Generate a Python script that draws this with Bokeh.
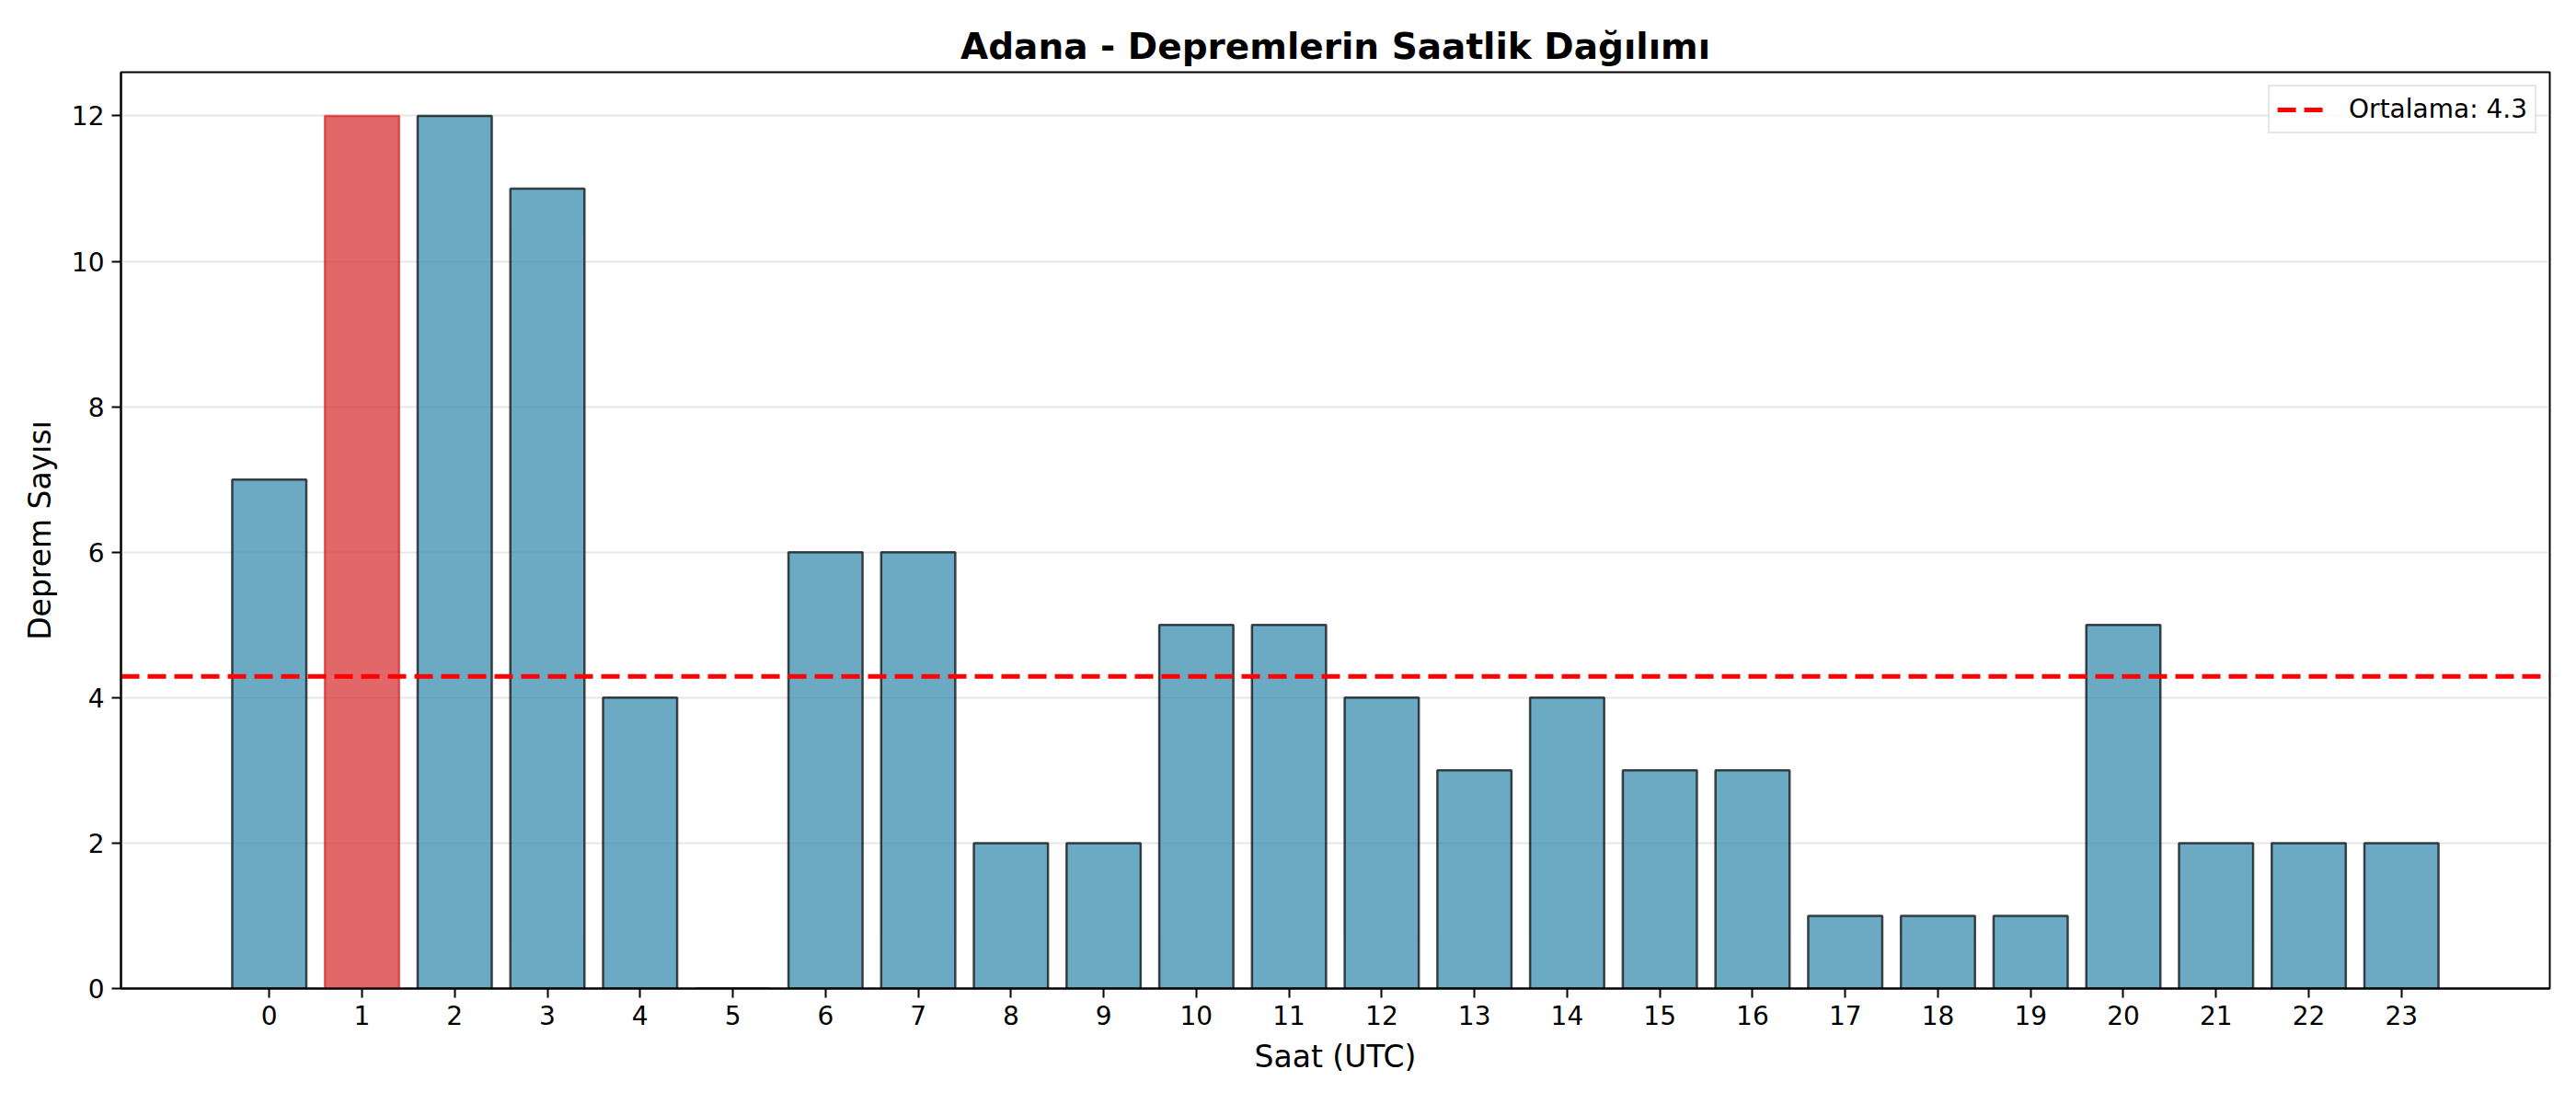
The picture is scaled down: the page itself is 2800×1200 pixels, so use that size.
from bokeh.plotting import figure
from bokeh.models import Legend, LegendItem, FixedTicker, ColumnDataSource, Range1d
from bokeh.embed import file_html
from bokeh.resources import INLINE

# hourly earthquake counts, Adana
hours = list(range(24))
counts = [7, 12, 12, 11, 4, 0, 6, 6, 2, 2, 5, 5, 4, 3, 4, 3, 3, 1, 1, 1, 5, 2, 2, 2]
y_ticks = [0, 2, 4, 6, 8, 10, 12]

mean = sum(counts) / len(counts)
peak = counts.index(max(counts))
colors = ["#d62728" if i == peak else "#2E86AB" for i in hours]
edges = ["#d62728" if i == peak else "black" for i in hours]

FONT = "DejaVu Sans"
x_lo, x_hi = -1.6, 24.6

src = ColumnDataSource(dict(hour=hours, count=counts, color=colors, edge=edges))

p = figure(width=2784, height=1184, output_backend="svg", toolbar_location=None,
           x_range=Range1d(x_lo, x_hi), y_range=Range1d(0, 12.6),
           min_border_left=131, min_border_right=13,
           min_border_top=78, min_border_bottom=110)

p.vbar(x="hour", top="count", width=0.8, source=src,
       fill_color="color", fill_alpha=0.7,
       line_color="edge", line_alpha=0.7, line_width=2.5)

# mean line across the whole plot
mean_r = p.line(x=[x_lo, x_hi], y=[mean, mean], line_color="red",
                line_width=5, line_dash="20 9")

legend = Legend(items=[LegendItem(label="Ortalama: %.1f" % mean, renderers=[mean_r])],
                location="top_right")
legend.label_text_font = FONT
legend.label_text_font_size = "28px"
legend.label_text_color = "black"
legend.glyph_width = 50
legend.glyph_height = 28
legend.padding = 8
legend.margin = 14
legend.spacing = 0
legend.label_standoff = 28
legend.border_line_color = "#cccccc"
legend.border_line_width = 2
legend.background_fill_alpha = 0.8
p.add_layout(legend)

p.title.text = "Adana - Depremlerin Saatlik Dağılımı"
p.title.align = "center"
p.title.text_font = FONT
p.title.text_font_size = "39px"
p.title.text_font_style = "bold"
p.title.text_color = "black"
p.title.offset = 0
p.title.standoff = 12

p.xaxis.axis_label = "Saat (UTC)"
p.yaxis.axis_label = "Deprem Sayısı"
p.xaxis.ticker = FixedTicker(ticks=hours)
p.yaxis.ticker = FixedTicker(ticks=y_ticks)

for ax in (p.xaxis, p.yaxis):
    ax.axis_label_text_font = FONT
    ax.axis_label_text_font_size = "33px"
    ax.axis_label_text_font_style = "normal"
    ax.axis_label_text_color = "black"
    ax.major_label_text_font = FONT
    ax.major_label_text_font_size = "28px"
    ax.major_label_text_color = "black"
    ax.axis_line_color = "black"
    ax.axis_line_width = 2
    ax.major_tick_line_color = "black"
    ax.major_tick_line_width = 2
    ax.major_tick_out = 10
    ax.major_tick_in = 0
    ax.minor_tick_line_color = None
    ax.major_label_standoff = 8
    ax.axis_label_standoff = 12

p.outline_line_color = "black"
p.outline_line_width = 2
p.outline_line_alpha = 1

p.xgrid.visible = False
p.ygrid.grid_line_color = "#b0b0b0"
p.ygrid.grid_line_alpha = 0.3
p.ygrid.grid_line_width = 2

open("out.html", "w").write(file_html(p, INLINE))
